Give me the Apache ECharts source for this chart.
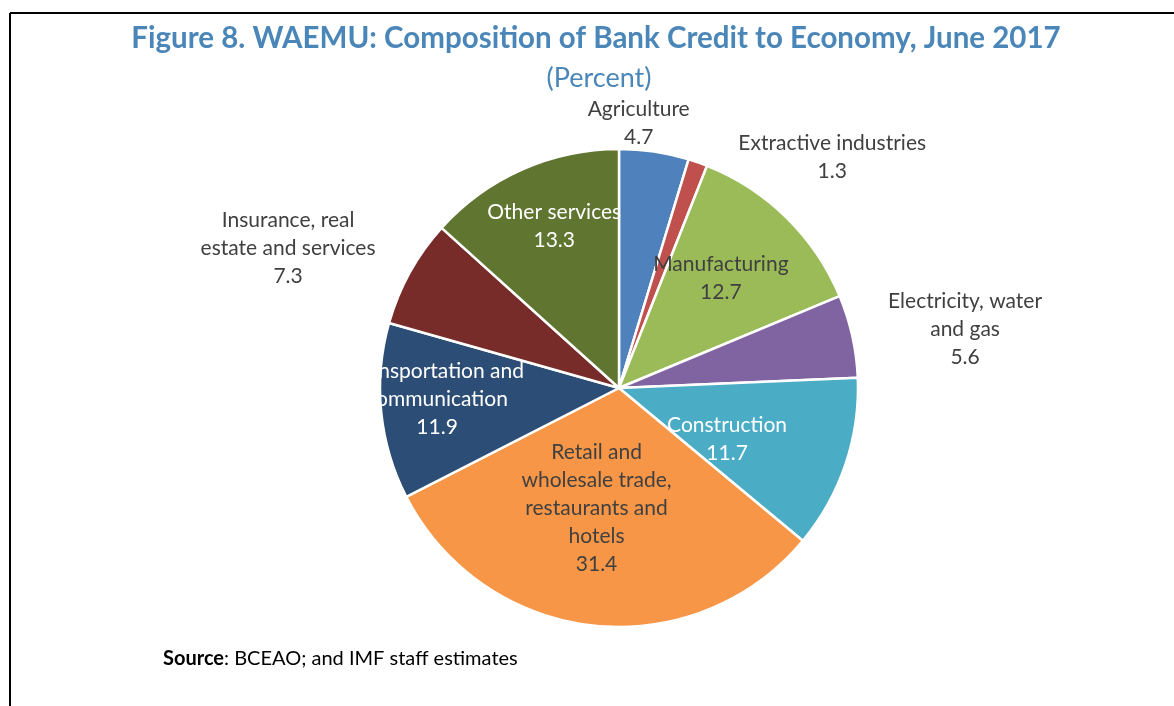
<!DOCTYPE html>
<html>
<head>
<meta charset="utf-8">
<script src="https://cdn.jsdelivr.net/npm/echarts@6/dist/echarts.min.js"></script>
<style>
  html, body { margin: 0; padding: 0; background: #fff; }
  #chart { width: 1174px; height: 706px; }
</style>
</head>
<body>
<div id="chart"></div>
<script>
// Sectors of bank credit, share in percent (June 2017)
const sectors = [
  'Agriculture',
  'Extractive industries',
  'Manufacturing',
  'Electricity, water\nand gas',
  'Construction',
  'Retail and\nwholesale trade,\nrestaurants and\nhotels',
  'Transportation and\ncommunication',
  'Insurance, real\nestate and services',
  'Other services'
];
const shares = [4.7, 1.3, 12.7, 5.6, 11.7, 31.4, 11.9, 7.3, 13.3];
const sliceColors = ['#4F81BD', '#C0504D', '#9BBB59', '#8064A2', '#4BACC6',
                     '#F79646', '#2C4D75', '#772C2A', '#5F7530'];

// Label placement: outside or inside the slice, its text colour and a nudge
const labelOutside = [true, true, false, true, false, false, false, true, false];
const labelColor = ['#404040', '#404040', '#404040', '#404040', '#ffffff',
                    '#404040', '#ffffff', '#404040', '#ffffff'];
const labelNudge = [[-22, -18], [126, 4], [16, -22], [98, -5], [-8, 12],
                    [-9, -2], [-60, -1], [-108, -19], [-15, -50]];

const FONT = 'Lato, "Open Sans", sans-serif';

const chart = echarts.init(document.getElementById('chart'));
chart.setOption({
  backgroundColor: '#ffffff',
  animation: false,
  title: [
    {
      text: 'Figure 8. WAEMU: Composition of Bank Credit to Economy, June 2017',
      left: 591, top: 18, textAlign: 'center',
      textStyle: { color: '#4A86B8', fontFamily: FONT, fontWeight: 'bold', fontSize: 29.5 }
    },
    {
      text: '(Percent)',
      left: 594, top: 60, textAlign: 'center',
      textStyle: { color: '#4A86B8', fontFamily: FONT, fontWeight: 'normal', fontSize: 27 }
    }
  ],
  graphic: [
    { type: 'line', shape: { x1: 10, y1: 13, x2: 1174, y2: 13 }, style: { stroke: '#000', lineWidth: 2 } },
    { type: 'line', shape: { x1: 10, y1: 13, x2: 10, y2: 706 }, style: { stroke: '#000', lineWidth: 2 } },
    {
      type: 'text', left: 163, top: 649,
      style: {
        text: '{b|Source}: BCEAO; and IMF staff estimates',
        fontFamily: FONT, fontSize: 20, fill: '#000',
        rich: { b: { fontFamily: FONT, fontSize: 20, fontWeight: 'bold', fill: '#000' } }
      }
    }
  ],
  series: [{
    type: 'pie',
    center: [619, 388],
    radius: 239,
    startAngle: 90,
    clockwise: true,
    avoidLabelOverlap: false,
    itemStyle: { borderColor: '#ffffff', borderWidth: 2.5 },
    labelLine: { show: false, length: 10, length2: 0 },
    label: {
      formatter: '{b}\n{c}',
      fontFamily: FONT, fontSize: 21, lineHeight: 28, align: 'center'
    },
    labelLayout: function (p) {
      const n = labelNudge[p.dataIndex];
      return { align: 'center', verticalAlign: 'middle', dx: n[0], dy: n[1] };
    },
    data: sectors.map((name, i) => ({
      name: name,
      value: shares[i],
      itemStyle: { color: sliceColors[i] },
      label: {
        position: labelOutside[i] ? 'outside' : 'inside',
        color: labelColor[i]
      }
    }))
  }]
});
</script>
</body>
</html>
